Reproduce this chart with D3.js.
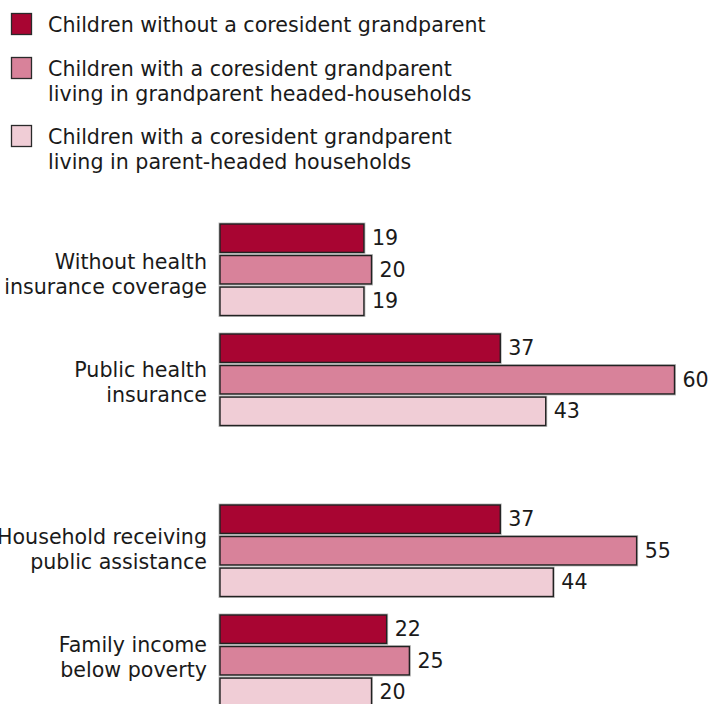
<!DOCTYPE html>
<html>
<head>
<meta charset="utf-8">
<script src="https://cdn.jsdelivr.net/npm/d3@7"></script>
<style>
  html, body { margin: 0; padding: 0; background: #fff; }
  svg { display: block; }
  text { font-family: "DejaVu Sans", Verdana, sans-serif; font-size: 20.6px; fill: #1a1a1a; }
</style>
</head>
<body>
<svg id="chart" width="710" height="704"></svg>
<script>
// Share of children (%) by grandparent co-residence status
const seriesNames = [
  "Children without a coresident grandparent",
  "Children with a coresident grandparent\nliving in grandparent headed-households",
  "Children with a coresident grandparent\nliving in parent-headed households"
];
const seriesColors = ["#a80532", "#d8829a", "#f0cdd6"];

const categories = [
  "Without health\ninsurance coverage",
  "Public health\ninsurance",
  "Household receiving\npublic assistance",
  "Family income\nbelow poverty"
];
// which block each category sits in (health coverage vs. economic status)
const sections = [0, 0, 1, 1];

const withoutGrandparent = [19, 37, 37, 22];
const grandparentHeaded = [20, 60, 55, 25];
const parentHeaded = [19, 43, 44, 20];
const values = [withoutGrandparent, grandparentHeaded, parentHeaded];

const svg = d3.select("#chart");

// horizontal value scale
const x = d3.scaleLinear().domain([0, 60]).range([220, 674.5]);

// block offsets, then group slots within a block, then bars within a group
const sectionY = d3.scaleOrdinal().domain([0, 1]).range([224, 505]);
const groupStep = 110;
const inner = d3.scaleBand().domain(d3.range(3)).range([0, 91.5]).paddingInner(0.1);
const groupTop = i => sectionY(sections[i]) + sections.slice(0, i).filter(s => s === sections[i]).length * groupStep;

// legend
const legend = svg.append("g");
const legendRowY = [13, 57, 125];
seriesNames.forEach((name, k) => {
  const g = legend.append("g").attr("transform", `translate(0,${legendRowY[k]})`);
  g.append("rect")
    .attr("x", 11.5).attr("y", 0.5).attr("width", 20).attr("height", 21)
    .attr("fill", seriesColors[k]).attr("stroke", "#2a2a2a").attr("stroke-width", 1.3);
  const t = g.append("text").attr("x", 48).attr("y", 19);
  name.split("\n").forEach((line, li) => {
    t.append("tspan").attr("x", 48).attr("dy", li === 0 ? 0 : 25).text(line);
  });
});

// bars
const plot = svg.append("g");
categories.forEach((cat, i) => {
  const top = groupTop(i);
  const g = plot.append("g").attr("transform", `translate(0,${top})`);
  values.forEach((arr, k) => {
    const v = arr[i];
    const y0 = inner(k), bh = inner.bandwidth();
    // soft grey halo behind each bar
    g.append("rect")
      .attr("x", x(0)).attr("y", y0).attr("width", x(v) - x(0)).attr("height", bh)
      .attr("fill", "none").attr("stroke", "#bdbdbd").attr("stroke-width", 3);
    g.append("rect")
      .attr("x", x(0)).attr("y", y0).attr("width", x(v) - x(0)).attr("height", bh)
      .attr("fill", seriesColors[k]).attr("stroke", "#222").attr("stroke-width", 1.4);
    g.append("text")
      .attr("x", x(v) + 8).attr("y", y0 + bh / 2 + 7)
      .text(v);
  });

  // category label, right aligned against the bars
  const center = top + 91.5 / 2;
  const base = 269 + (center - 270) * 0.98;
  const t = svg.append("text").attr("text-anchor", "end").attr("x", 207).attr("y", base);
  cat.split("\n").forEach((line, li) => {
    t.append("tspan").attr("x", 207).attr("dy", li === 0 ? 0 : 25).text(line);
  });
});
</script>
</body>
</html>
